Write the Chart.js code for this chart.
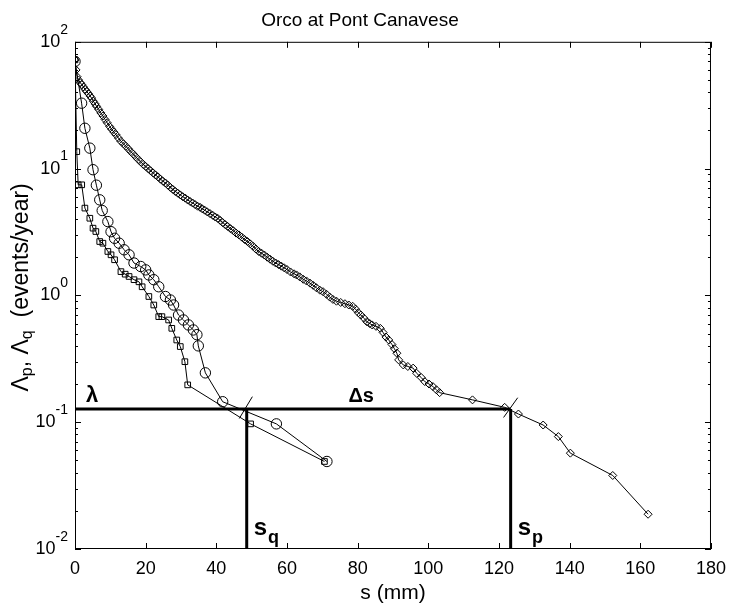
<!DOCTYPE html>
<html>
<head>
<meta charset="utf-8">
<script src="https://cdn.jsdelivr.net/npm/chart.js@4.4.0/dist/chart.umd.min.js"></script>
<style>
html, body { margin: 0; padding: 0; background: #fff; }
#wrap { width: 735px; height: 609px; }
</style>
</head>
<body>
<div id="wrap"><canvas id="rateChart" width="735" height="609"></canvas></div>
<script>
// Diamonds - rainfall-based curve (s in mm, rate in events/year)
const diamondS = [0, 0.3, 0.6, 1.0, 1.5, 1.9, 2.4, 2.9, 3.3, 3.8, 4.3, 4.7, 5.2, 5.7, 6.1, 6.7, 7.3, 7.9, 8.5, 9.1,
  9.8, 10.4, 11.0, 11.6, 12.3, 13.0, 13.7, 14.4, 15.1, 15.8, 16.5, 17.2, 17.9, 18.6, 19.3, 20.0, 20.7, 21.4, 22.1, 22.8,
  23.5, 24.2, 24.9, 25.6, 26.3, 27.0, 27.7, 28.4, 29.1, 29.8, 30.5, 31.2, 31.9, 32.6, 33.3, 34.0, 34.7, 35.4, 36.0, 36.7,
  37.4, 38.2, 39.0, 39.7, 40.4, 41.1, 41.8, 42.5, 43.2, 44.0, 44.8, 45.6, 46.4, 47.2, 48.0, 48.8, 49.6, 50.4, 51.2, 52.0,
  52.8, 53.6, 54.4, 55.2, 56.0, 56.8, 57.6, 58.4, 59.2, 60.0, 61.0, 62.0, 62.7, 63.6, 64.6, 65.5, 66.5, 67.4, 68.3, 69.3,
  70.2, 71.2, 72.1, 73.0, 74.0, 75.2, 76.4, 77.5, 78.6, 79.4, 80.2, 80.9, 81.8, 82.6, 83.4, 84.1, 85.2, 86.4, 87.2, 88.0,
  88.8, 89.7, 90.4, 91.1, 91.6, 92.9, 94.2, 95.7, 96.7, 98.0, 99.0, 100.2, 101.3, 102.3, 103.2, 112.5, 121.6, 125.5, 132.5, 136.8,
  140.2, 152.2, 162.2];
const diamondRate = [72, 60, 53, 50, 47.5, 46, 44, 42, 40.6, 39, 37.3, 36, 34, 32.4, 31, 29.3, 27.5, 26, 24.4, 23,
  21.5, 20.4, 19.4, 18.5, 17.4, 16.4, 15.7, 15, 14.3, 13.6, 13, 12.4, 11.8, 11.3, 10.8, 10.4, 10, 9.6, 9.25, 8.9,
  8.6, 8.25, 7.95, 7.7, 7.4, 7.1, 6.85, 6.6, 6.4, 6.2, 6.0, 5.85, 5.65, 5.5, 5.35, 5.2, 5.05, 4.95, 4.82, 4.7,
  4.56, 4.42, 4.28, 4.15, 4.05, 3.9, 3.75, 3.62, 3.5, 3.36, 3.24, 3.1, 3.0, 2.88, 2.76, 2.66, 2.55, 2.44, 2.32, 2.22,
  2.15, 2.08, 2.0, 1.93, 1.86, 1.8, 1.75, 1.7, 1.65, 1.6, 1.53, 1.48, 1.45, 1.4, 1.34, 1.3, 1.25, 1.2, 1.15, 1.1,
  1.07, 1.02, 0.97, 0.93, 0.9, 0.88, 0.86, 0.84, 0.82, 0.78, 0.73, 0.70, 0.66, 0.62, 0.6, 0.585, 0.57, 0.55, 0.51, 0.47,
  0.445, 0.41, 0.38, 0.35, 0.31, 0.283, 0.275, 0.267, 0.243, 0.225, 0.209, 0.2, 0.191, 0.18, 0.171, 0.150, 0.131, 0.116, 0.095, 0.077,
  0.057, 0.038, 0.0188];

// Circles
const circleS = [0, 1.87, 2.8, 4.2, 5.1, 6.05, 7.0, 7.7, 9.3, 10.2, 11.2, 12.5, 13.9, 15.3, 16.7, 18.6, 20.0, 20.9, 22.3, 23.7,
  25.6, 27.0, 27.9, 29.3, 30.7, 32.1, 33.5, 34.5, 34.9, 36.9, 41.8, 57.0, 71.3];
const circleRate = [70, 32.8, 20.8, 14.5, 9.8, 7.4, 5.67, 4.67, 3.82, 3.18, 2.82, 2.58, 2.29, 2.09, 1.80, 1.69, 1.59, 1.45, 1.33, 1.17,
  0.98, 0.92, 0.84, 0.70, 0.64, 0.585, 0.534, 0.49, 0.40, 0.245, 0.145, 0.097, 0.049];

// Squares
const squareS = [0, 0.5, 0.9, 1.9, 2.8, 4.2, 5.1, 5.9, 7.0, 7.9, 9.3, 10.2, 11.2, 13.0, 14.2, 15.3, 16.7, 18.1, 19.0, 20.9,
  22.3, 23.7, 24.6, 26.5, 27.4, 28.8, 29.8, 31.1, 31.9, 49.7, 70.6];
const squareRate = [72, 13.6, 7.45, 7.45, 4.88, 4.06, 3.39, 3.19, 2.66, 2.58, 2.22, 2.09, 1.91, 1.54, 1.47, 1.41, 1.33, 1.28, 1.17, 0.98,
  0.84, 0.68, 0.68, 0.64, 0.55, 0.445, 0.395, 0.30, 0.197, 0.097, 0.049];

// threshold construction
const lambda = 0.127;
const sQ = 48.6;
const sP = 123.3;
const yBottom = 0.01;

// axes
const xTicks = [0, 20, 40, 60, 80, 100, 120, 140, 160, 180];
const yDecades = [-2, -1, 0, 1, 2];

const FONT = "'Liberation Sans', Arial, Helvetica, sans-serif";
Chart.defaults.color = '#000';
Chart.defaults.font.family = FONT;

const pts = (xs, ys) => xs.map((v, i) => ({ x: v, y: ys[i] }));

function series(data, style, r) {
  return {
    data: data, showLine: true, borderColor: '#000', borderWidth: 1,
    pointStyle: style, pointRadius: r, pointBorderColor: '#000',
    pointBorderWidth: 1, pointBackgroundColor: 'rgba(0,0,0,0)'
  };
}
function thick(data, w) {
  return { data: data, showLine: true, borderColor: '#000', borderWidth: w, pointRadius: 0 };
}

function drawSub(ctx, x, y, main, sub, mainFont, subFont, drop) {
  ctx.font = mainFont;
  ctx.fillText(main, x, y);
  const w = ctx.measureText(main).width;
  ctx.font = subFont;
  ctx.fillText(sub, x + w + 1, y + drop);
}

const frame = {
  id: 'frame',
  afterDraw(chart) {
    const { ctx, chartArea: a, scales: { x, y } } = chart;
    ctx.save();
    ctx.strokeStyle = '#000';
    ctx.lineWidth = 1;
    ctx.strokeRect(a.left + 0.5, a.top + 0.5, a.right - a.left - 1, a.bottom - a.top - 1);

    ctx.beginPath();
    xTicks.forEach(v => {
      const px = Math.round(x.getPixelForValue(v)) + 0.5;
      ctx.moveTo(px, a.bottom); ctx.lineTo(px, a.bottom - 6);
      ctx.moveTo(px, a.top); ctx.lineTo(px, a.top + 6);
    });
    yDecades.forEach(d => {
      for (let m = 1; m < 10; m++) {
        if (d === 2 && m > 1) break;
        const py = Math.round(y.getPixelForValue(m * Math.pow(10, d))) + 0.5;
        const len = m === 1 ? 6 : 3;
        ctx.moveTo(a.left, py); ctx.lineTo(a.left + len, py);
        ctx.moveTo(a.right, py); ctx.lineTo(a.right - len, py);
      }
    });
    ctx.stroke();

    // y tick labels 10^n
    ctx.fillStyle = '#000';
    ctx.textBaseline = 'middle';
    ctx.textAlign = 'right';
    yDecades.forEach(d => {
      const py = y.getPixelForValue(Math.pow(10, d));
      const exp = d < 0 ? '-' + (-d) : String(d);
      ctx.font = '14px ' + FONT;
      const ew = ctx.measureText(exp).width;
      ctx.fillText(exp, a.left - 7, py - 12);
      ctx.font = '18px ' + FONT;
      ctx.fillText('10', a.left - 7 - ew, py);
    });

    // y axis title with subscripts
    ctx.save();
    ctx.translate(22, (a.top + a.bottom) / 2 - 8);
    ctx.rotate(-Math.PI / 2);
    const parts = [['\u039B', 23, 0], ['p', 16, 6], [', ', 23, 0], ['\u039B', 23, 0], ['q', 16, 6], ['  (events/year)', 23, 0]];
    let total = 0;
    parts.forEach(p => { ctx.font = p[1] + 'px ' + FONT; total += ctx.measureText(p[0]).width; });
    let cx = -total / 2;
    ctx.textAlign = 'left';
    ctx.textBaseline = 'middle';
    parts.forEach(p => {
      ctx.font = p[1] + 'px ' + FONT;
      ctx.fillText(p[0], cx, p[2]);
      cx += ctx.measureText(p[0]).width;
    });
    ctx.restore();

    // annotations
    ctx.textAlign = 'left';
    ctx.textBaseline = 'alphabetic';
    const ly = y.getPixelForValue(lambda);
    ctx.font = 'bold 22px ' + FONT;
    ctx.fillText('\u03BB', a.left + 11, ly - 7);
    ctx.font = 'bold 20px ' + FONT;
    ctx.textAlign = 'center';
    ctx.fillText('\u0394s', x.getPixelForValue(81), ly - 7);
    ctx.textAlign = 'left';
    drawSub(ctx, x.getPixelForValue(sQ) + 7, a.bottom - 14, 's', 'q', 'bold 24px ' + FONT, 'bold 18px ' + FONT, 8);
    drawSub(ctx, x.getPixelForValue(sP) + 7, a.bottom - 14, 's', 'p', 'bold 24px ' + FONT, 'bold 18px ' + FONT, 8);
    ctx.restore();
  }
};

new Chart(document.getElementById('rateChart'), {
  type: 'scatter',
  data: {
    datasets: [
      series(pts(diamondS, diamondRate), 'rectRot', 4),
      series(pts(circleS, circleRate), 'circle', 5.2),
      series(pts(squareS, squareRate), 'rect', 4),
      thick([{ x: 0, y: lambda }, { x: sP, y: lambda }], 3),
      thick([{ x: sQ, y: yBottom }, { x: sQ, y: lambda }], 3),
      thick([{ x: sP, y: yBottom }, { x: sP, y: lambda }], 3),
      thick([{ x: 46.5, y: 0.107 }, { x: 50.2, y: 0.159 }], 1),
      thick([{ x: 121.3, y: 0.109 }, { x: 125.3, y: 0.156 }], 1)
    ]
  },
  options: {
    responsive: false,
    animation: false,
    devicePixelRatio: 1,
    layout: { padding: { right: 15, left: 0, bottom: 0, top: 0 } },
    plugins: {
      legend: { display: false },
      tooltip: { enabled: false },
      title: {
        display: true, text: 'Orco at Pont Canavese', color: '#000',
        font: { size: 19, weight: 'normal', family: FONT },
        padding: { top: 9, bottom: 10 }
      }
    },
    scales: {
      x: {
        type: 'linear', min: 0, max: 180,
        grid: { display: false, drawTicks: false },
        border: { display: false },
        ticks: { stepSize: 20, padding: 9, font: { size: 18 }, color: '#000', maxRotation: 0 },
        title: { display: true, text: 's (mm)', font: { size: 21 }, color: '#000', padding: { top: 0, bottom: 3 } },
        afterFit: s => { s.height = 60; }
      },
      y: {
        type: 'logarithmic', min: 0.01, max: 100,
        grid: { display: false, drawTicks: false },
        border: { display: false },
        ticks: { display: false },
        afterFit: s => { s.width = 75; }
      }
    }
  },
  plugins: [frame]
});
</script>
</body>
</html>
